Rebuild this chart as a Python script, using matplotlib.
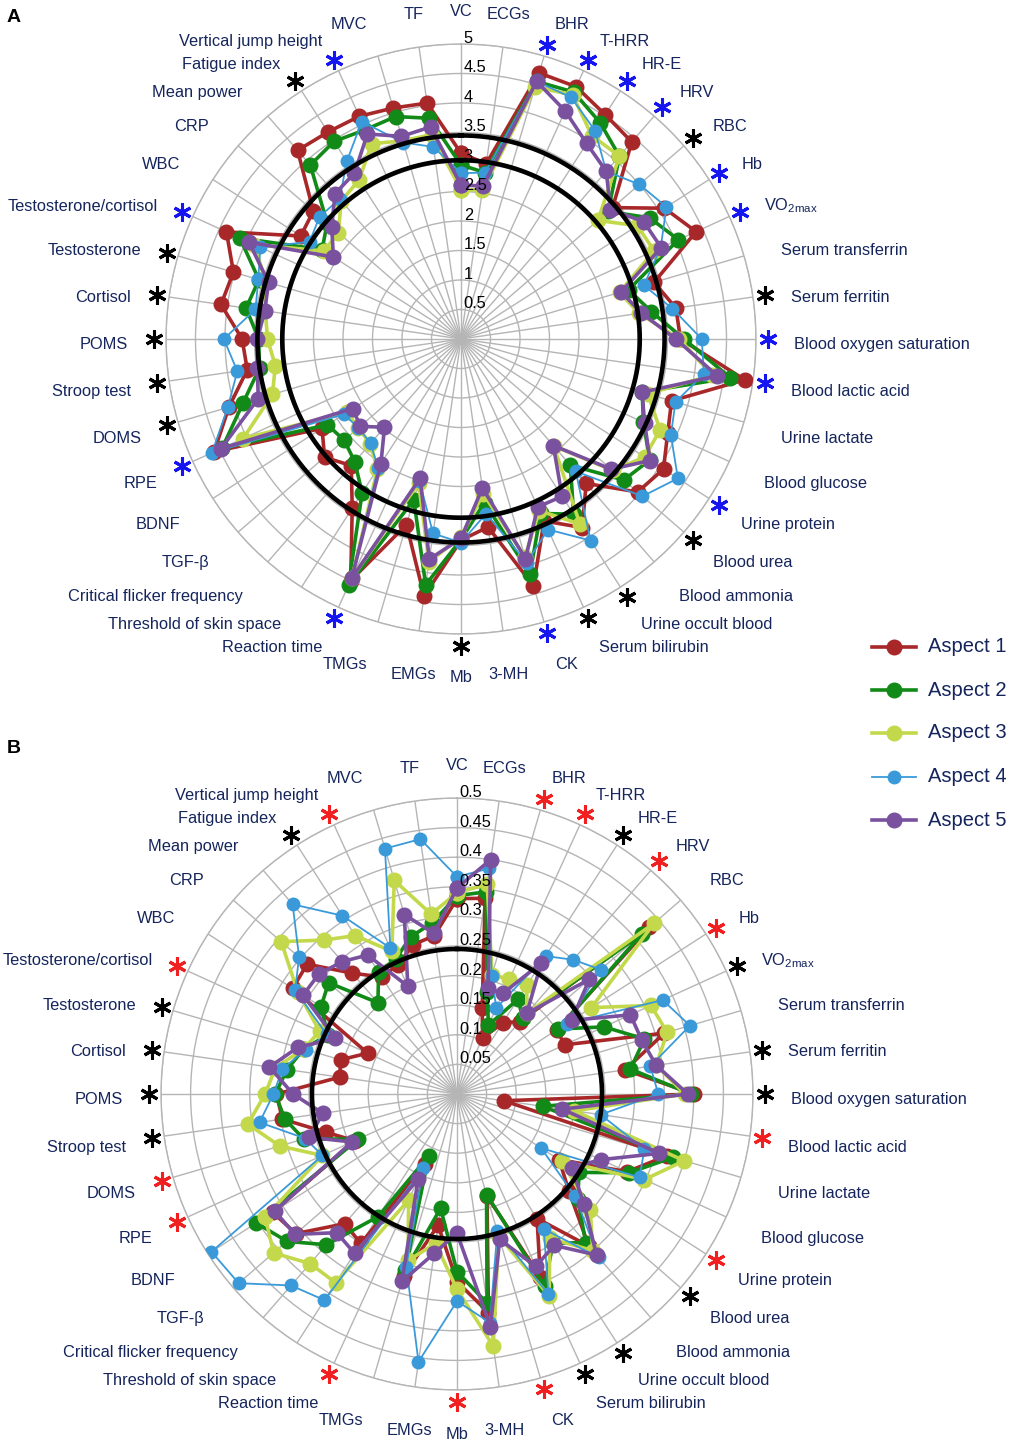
import numpy as np
import matplotlib
matplotlib.use('Agg')
import matplotlib.pyplot as plt
from matplotlib.lines import Line2D

plt.rcParams['font.family'] = ['Liberation Sans', 'DejaVu Sans']
plt.rcParams['mathtext.fontset'] = 'custom'
plt.rcParams['mathtext.rm'] = 'Liberation Sans'

# Indicators, clockwise from the top
categories = ['VC', 'ECGs', 'BHR', 'T-HRR', 'HR-E', 'HRV', 'RBC', 'Hb', 'VO$_{\\mathregular{2max}}$',
              'Serum transferrin', 'Serum ferritin', 'Blood oxygen saturation', 'Blood lactic acid',
              'Urine lactate', 'Blood glucose', 'Urine protein', 'Blood urea', 'Blood ammonia',
              'Urine occult blood', 'Serum bilirubin', 'CK', '3-MH', 'Mb', 'EMGs', 'TMGs',
              'Reaction time', 'Threshold of skin space', 'Critical flicker frequency', 'TGF-β',
              'BDNF', 'RPE', 'DOMS', 'Stroop test', 'POMS', 'Cortisol', 'Testosterone',
              'Testosterone/cortisol', 'WBC', 'CRP', 'Mean power', 'Fatigue index',
              'Vertical jump height', 'MVC', 'TF']

aspects = ['Aspect 1', 'Aspect 2', 'Aspect 3', 'Aspect 4', 'Aspect 5']
colors = ['#a8282a', '#118a17', '#c3d94b', '#3a9ad9', '#7a519f']

# Panel A scores
a_aspect1 = [3.15, 3.0, 4.7, 4.7, 4.52, 4.42, 3.4, 4.1, 4.38, 3.41, 3.68, 3.72, 4.86, 3.72, 3.85, 4.08,
             3.96, 3.24, 3.8, 3.39, 4.36, 3.22, 3.41, 4.4, 3.28, 4.5, 3.41, 2.84, 3.06, 2.8, 4.6, 4.1,
             3.66, 3.71, 4.11, 4.02, 4.37, 3.23, 3.31, 4.23, 4.17, 4.15, 4.08, 4.04]
a_aspect2 = [2.95, 2.85, 4.55, 4.6, 4.36, 4.1, 3.3, 3.8, 4.05, 2.96, 3.26, 3.78, 4.61, 3.2, 3.4, 3.8,
             3.65, 2.83, 3.53, 3.25, 4.15, 2.8, 3.4, 4.21, 2.84, 4.59, 3.1, 2.75, 2.62, 2.69, 4.45, 3.85,
             3.45, 3.43, 3.68, 3.57, 4.12, 2.8, 3.0, 3.9, 3.98, 3.9, 3.93, 3.78]
a_aspect3 = [2.53, 2.55, 4.45, 4.55, 4.1, 4.1, 3.07, 3.55, 3.6, 2.8, 3.05, 3.7, 4.3, 3.3, 3.71, 3.7,
             3.4, 2.4, 3.73, 3.2, 3.85, 2.65, 3.35, 3.82, 2.55, 4.45, 2.62, 2.35, 2.3, 2.3, 4.06, 3.33,
             3.18, 3.28, 3.35, 3.45, 3.85, 2.76, 2.75, 3.1, 3.2, 3.64, 3.5, 3.5]
a_aspect4 = [2.81, 2.85, 4.55, 4.5, 4.2, 3.76, 4.0, 4.14, 3.72, 3.23, 3.62, 4.08, 4.16, 3.79, 3.91, 4.37,
             4.07, 2.97, 4.06, 3.55, 3.95, 2.99, 3.45, 3.33, 2.5, 4.45, 2.6, 2.34, 2.3, 2.36, 4.64, 4.12,
             3.83, 4.02, 3.52, 3.58, 3.74, 3.05, 3.17, 3.14, 3.58, 4.05, 3.47, 3.29]
a_aspect5 = [2.61, 2.62, 4.55, 4.25, 3.94, 3.76, 3.35, 3.68, 3.73, 2.83, 3.09, 3.64, 4.39, 3.2, 3.42, 3.81,
             3.37, 2.39, 3.17, 3.13, 3.88, 2.55, 3.38, 3.77, 2.46, 4.46, 2.51, 1.98, 2.26, 2.18, 4.47, 3.58,
             3.49, 3.45, 3.36, 3.4, 3.95, 2.57, 2.9, 3.26, 3.34, 3.82, 3.58, 3.63]

# Panel B scores
b_aspect1 = [0.33, 0.334, 0.151, 0.104, 0.143, 0.162, 0.43, 0.2, 0.2, 0.365, 0.287, 0.4, 0.08, 0.37,
             0.316, 0.205, 0.25, 0.34, 0.25, 0.339, 0.18, 0.373, 0.317, 0.224, 0.32, 0.13, 0.3, 0.29,
             0.36, 0.37, 0.19, 0.23, 0.298, 0.305, 0.2, 0.205, 0.166, 0.33, 0.335, 0.27, 0.235, 0.24,
             0.263, 0.27]
b_aspect2 = [0.335, 0.345, 0.18, 0.128, 0.19, 0.17, 0.414, 0.203, 0.273, 0.33, 0.296, 0.395, 0.146, 0.38,
             0.32, 0.245, 0.27, 0.332, 0.3, 0.356, 0.177, 0.357, 0.3, 0.195, 0.31, 0.115, 0.246, 0.337,
             0.38, 0.403, 0.183, 0.27, 0.294, 0.307, 0.29, 0.27, 0.24, 0.273, 0.287, 0.204, 0.245, 0.25,
             0.277, 0.292]
b_aspect3 = [0.34, 0.358, 0.21, 0.213, 0.218, 0.18, 0.44, 0.27, 0.36, 0.37, 0.34, 0.385, 0.2, 0.4,
             0.348, 0.21, 0.298, 0.35, 0.29, 0.375, 0.25, 0.43, 0.33, 0.255, 0.293, 0.197, 0.379, 0.379,
             0.41, 0.385, 0.25, 0.312, 0.357, 0.324, 0.31, 0.27, 0.255, 0.32, 0.393, 0.344, 0.318, 0.265,
             0.376, 0.307]
b_aspect4 = [0.367, 0.385, 0.207, 0.16, 0.277, 0.3, 0.321, 0.22, 0.382, 0.41, 0.33, 0.34, 0.245, 0.33,
             0.339, 0.169, 0.264, 0.365, 0.271, 0.372, 0.242, 0.39, 0.35, 0.457, 0.304, 0.137, 0.414,
             0.428, 0.488, 0.493, 0.25, 0.267, 0.337, 0.31, 0.298, 0.266, 0.242, 0.325, 0.353, 0.424,
             0.358, 0.271, 0.432, 0.435]
b_aspect5 = [0.348, 0.4, 0.186, 0.187, 0.263, 0.18, 0.296, 0.23, 0.322, 0.325, 0.34, 0.39, 0.18, 0.356,
             0.267, 0.23, 0.284, 0.36, 0.304, 0.32, 0.256, 0.397, 0.235, 0.272, 0.33, 0.158, 0.32, 0.31,
             0.362, 0.366, 0.195, 0.26, 0.229, 0.277, 0.32, 0.28, 0.226, 0.309, 0.309, 0.296, 0.279, 0.2,
             0.316, 0.274]

# significance marks (index of indicator)
a_star_blue = [2, 3, 4, 5, 7, 8, 11, 12, 15, 20, 25, 30, 36, 41]
a_star_black = [6, 10, 16, 18, 19, 22, 31, 32, 33, 34, 35, 40]
b_star_red = [2, 3, 5, 7, 12, 15, 20, 22, 25, 30, 31, 36, 41]
b_star_black = [4, 8, 10, 11, 16, 18, 19, 32, 33, 34, 35, 40]

a_ticks = [0.5, 1, 1.5, 2, 2.5, 3, 3.5, 4, 4.5, 5]
a_tick_labels = ['0.5', '1', '1.5', '2', '2.5', '3', '3.5', '4', '4.5', '5']
b_ticks = [0.05, 0.1, 0.15, 0.2, 0.25, 0.3, 0.35, 0.4, 0.45, 0.5]
b_tick_labels = ['0.05', '0.1', '0.15', '0.2', '0.25', '0.3', '0.35', '0.4', '0.45', '0.5']
a_circles = [3.03, 3.45]
b_circles = [0.245]

label_color = '#15255c'
grid_color = '#b5b5b5'
W, H = 1013, 1444

fig = plt.figure(figsize=(W / 100, H / 100), dpi=100)

n = len(categories)
angles = np.arange(n) * 2 * np.pi / n


def radar(rect, series, rmax, ticks, tick_labels, circles, stars):
    ax = fig.add_axes(rect, projection='polar')
    ax.set_theta_zero_location('N')
    ax.set_theta_direction(-1)
    ax.set_ylim(0, rmax)
    ax.set_xticks(angles)
    ax.set_xticklabels([])
    ax.set_yticks(ticks)
    ax.set_yticklabels([])
    ax.tick_params(length=0)
    ax.grid(True, color=grid_color, lw=1.0)
    ax.spines['polar'].set_color(grid_color)
    ax.spines['polar'].set_linewidth(1.0)
    ax.set_facecolor('none')

    closed = np.append(angles, angles[0])
    for i, vals in enumerate(series):
        v = np.append(vals, vals[0])
        lw = 1.3 if i == 3 else 2.6
        ms = 9 if i == 3 else 10.5
        ax.plot(closed, v, color=colors[i], lw=lw, marker='o', ms=ms, zorder=3 + i * 0.1)

    th = np.linspace(0, 2 * np.pi, 400)
    for c in circles:
        ax.plot(th, np.full_like(th, c), color='black', lw=3.3, zorder=6)

    for t, lab in zip(ticks, tick_labels):
        ax.annotate(lab, xy=(0, t), xytext=(2, 4), textcoords='offset points',
                    ha='left', va='center', fontsize=11.8, color='black', zorder=7)

    for idx, col in stars:
        ax.plot(angles[idx], rmax * 1.04, marker=(6, 2, 0), ms=13, mew=2.2,
                color=col, clip_on=False, zorder=7)

    for a, lab in zip(angles, categories):
        s = np.sin(a)
        ha = 'left' if s > 0.22 else ('right' if s < -0.22 else 'center')
        ax.annotate(lab, xy=(a, rmax * 1.13), xytext=(0, -4), textcoords='offset points',
                    ha=ha, va='center', fontsize=11.8, color=label_color, annotation_clip=False)
    return ax


def rect_for(cx, cy, r):
    return [(cx - r) / W, 1 - (cy + r) / H, 2 * r / W, 2 * r / H]


a_series = [a_aspect1, a_aspect2, a_aspect3, a_aspect4, a_aspect5]
b_series = [b_aspect1, b_aspect2, b_aspect3, b_aspect4, b_aspect5]

a_stars = [(i, '#1515f0') for i in a_star_blue] + [(i, 'black') for i in a_star_black]
b_stars = [(i, '#f02020') for i in b_star_red] + [(i, 'black') for i in b_star_black]

radar(rect_for(461, 339, 295), a_series, 5, a_ticks, a_tick_labels, a_circles, a_stars)
radar(rect_for(457, 1094, 296), b_series, 0.5, b_ticks, b_tick_labels, b_circles, b_stars)

fig.text(14 / W, 1 - 18 / H, 'A', fontsize=14, fontweight='bold', ha='center', va='center')
fig.text(14 / W, 1 - 748 / H, 'B', fontsize=14, fontweight='bold', ha='center', va='center')

# legend
leg_y = [647, 690, 733, 777, 820]
for i, name in enumerate(aspects):
    y = 1 - leg_y[i] / H
    lw = 1.3 if i == 3 else 2.6
    ms = 9 if i == 3 else 10.5
    fig.add_artist(Line2D([872 / W, 916 / W], [y, y], color=colors[i], lw=lw,
                          transform=fig.transFigure))
    fig.add_artist(Line2D([894 / W], [y], color=colors[i], marker='o', ms=ms,
                          transform=fig.transFigure))
    fig.text(928 / W, y, name, fontsize=14.5, color=label_color, ha='left', va='center')

fig.savefig('out.png', dpi=100)
